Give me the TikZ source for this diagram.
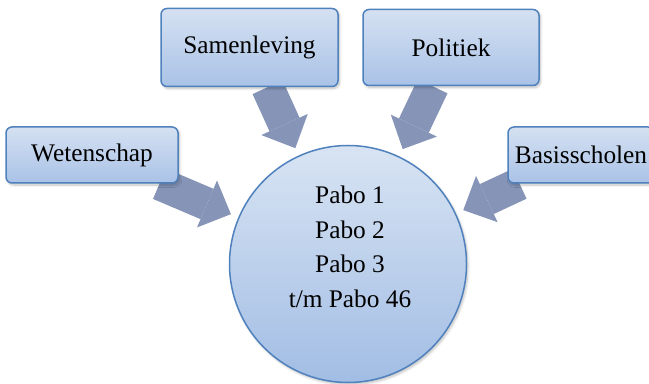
\documentclass[tikz,border=0pt]{standalone}
\usepackage{fontspec}
\setmainfont{Liberation Serif}
\usetikzlibrary{arrows.meta,backgrounds,shadows.blur}

\definecolor{boxtop}{HTML}{D5E1F2}
\definecolor{boxbottom}{HTML}{A9C2E6}
\definecolor{boxborder}{HTML}{4F81BD}
\definecolor{arrowcol}{HTML}{8594B7}
\definecolor{hubtop}{HTML}{D8E4F3}
\definecolor{hubbottom}{HTML}{A2BDE4}

\newlength{\pix}
\setlength{\pix}{0.75pt}

\begin{document}
\begin{tikzpicture}[x=0.75pt, y=-0.75pt,
		topic/.style={draw=boxborder, line width=1.5\pix, rounded corners=6\pix,
			top color=boxtop, bottom color=boxbottom, minimum height=56\pix,
			inner sep=2\pix, font=\fontsize{19}{21}\selectfont,
			blur shadow={shadow xshift=1.5\pix, shadow yshift=-2\pix, shadow blur steps=6, shadow opacity=25}},
		hub/.style={circle, draw=boxborder, line width=1.5\pix, minimum size=237\pix,
			top color=hubtop, bottom color=hubbottom,
			blur shadow={shadow xshift=1.5\pix, shadow yshift=-2\pix, shadow blur steps=6, shadow opacity=25}},
		bigarrow/.style={draw=arrowcol, line width=24.75pt,
			-{Triangle[width=38.25pt, length=19.5pt, line width=0pt]}, shorten >=6pt}]
		\useasboundingbox (0,0) rectangle (649,384);
		\node[topic, minimum width=177\pix, minimum height=78\pix] (samenleving) at (249.5,47.5) {Samenleving};
		\node[topic, minimum width=176\pix, minimum height=76\pix] (politiek) at (451,47.5) {Politiek};
		\node[topic, minimum width=172\pix] (wetenschap) at (92,155) {Wetenschap};
		\node[topic, minimum width=146\pix] (basisscholen) at (581,155) {Basisscholen};
		\node[hub] (pabo) at (348,264) {};
		\node[align=center, font=\fontsize{19}{25.9}\selectfont] (pabolist) at (350,247) {Pabo 1\\Pabo 2\\Pabo 3\\t/m Pabo 46};
		\begin{pgfonlayer}{background}
			\path [bigarrow] (wetenschap) -- (pabo);
			\path [bigarrow] (samenleving) -- (pabo);
			\path [bigarrow] (politiek) -- (pabo);
			\path [bigarrow] (basisscholen) -- (pabo);
		\end{pgfonlayer}
	\end{tikzpicture}
\end{document}
